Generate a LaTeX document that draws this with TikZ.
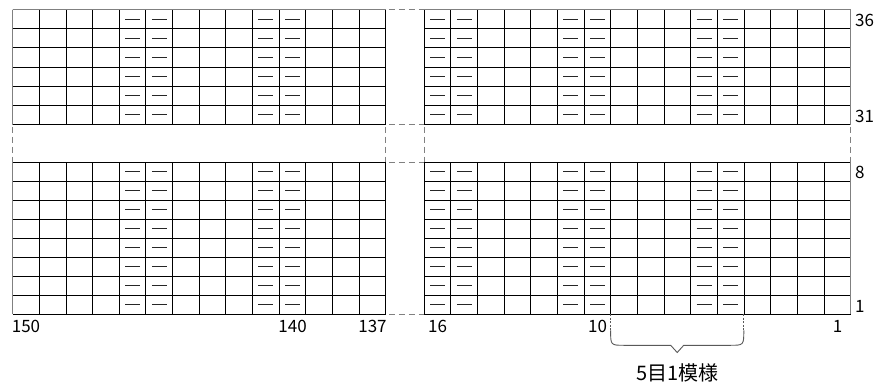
\documentclass[tikz,border=0pt]{standalone}
\usepackage{fontspec}
\usetikzlibrary{calc}
\setmainfont{Noto Sans CJK JP}
\def\cw{26.65}
\newcommand\knitgrid[6]{%
  \foreach \i in {0,...,#2} \draw[gridline] ({#1+\i*\cw},#3) -- ({#1+\i*\cw},{#3+#4*#5});
  \foreach \j in {0,...,#4} \draw[gridline] (#1,{#3+\j*#5}) -- ({#1+#2*\cw},{#3+\j*#5});
  \foreach \c in {#6} {\foreach \r in {1,...,#4} {\draw[purl] ({#1+(\c+0.22)*\cw},{#3+(\r-0.5)*#5}) -- ({#1+(\c+0.78)*\cw},{#3+(\r-0.5)*#5});}}
}
\begin{document}
\begin{tikzpicture}[x=1pt,y=-1pt,
  gridline/.style={black,line width=0.95pt},
  edgeline/.style={gray,line width=1.4pt},
  gapdash/.style={gray,line width=1pt,dash pattern=on 6pt off 4pt},
  purl/.style={black!85,line width=1.05pt},
  lbl/.style={font=\fontsize{17}{17}\selectfont,inner sep=0pt},
  caption/.style={font=\fontsize{20}{20}\selectfont,inner sep=0pt},
  bracestyle/.style={gray!70!black,line width=0.9pt},
  ]
\useasboundingbox (0,0) rectangle (877,383);
% top sections (rows 31-36)
\knitgrid{12.7}{14}{9.7}{6}{19.13}{4,5,9,10}
\knitgrid{424.3}{16}{9.7}{6}{19.13}{0,1,5,6,10,11}
% bottom sections (rows 1-8)
\knitgrid{12.7}{14}{162.3}{8}{19}{4,5,9,10}
\knitgrid{424.3}{16}{162.3}{8}{19}{0,1,5,6,10,11}
% grey outer edges
\draw[edgeline] (12.7,9.7) -- (12.7,124.5);
\draw[edgeline] (12.7,162.3) -- (12.7,314.3);
\draw[edgeline] (850.7,9.7) -- (850.7,124.5);
\draw[edgeline] (850.7,162.3) -- (850.7,314.3);
\draw[edgeline] (12.7,9.7) -- (385.8,9.7);
\draw[edgeline] (424.3,9.7) -- (850.7,9.7);
% gaps
\draw[gapdash,dash phase=-2pt] (12.7,124.5) -- (12.7,162.3);
\draw[gapdash,dash phase=-2pt] (850.7,124.5) -- (850.7,162.3);
\draw[gapdash,dash phase=-2pt] (385.8,124.5) -- (385.8,162.3);
\draw[gapdash,dash phase=-2pt] (424.3,124.5) -- (424.3,162.3);
\foreach \yy in {9.7,124.5,162.3,314.3}
  \draw[gapdash,dash phase=-3pt] (385.8,\yy) -- (424.3,\yy);
% column labels
\node[lbl] (c150) at (26.0,326.5) {150};
\node[lbl] (c140) at (292.6,326.5) {140};
\node[lbl] (c137) at (372.5,326.5) {137};
\node[lbl] (c16) at (437.6,326.5) {16};
\node[lbl] (c10) at (597.5,326.5) {10};
\node[lbl] (c1) at (837.5,326.5) {1};
% row labels
\node[lbl,anchor=west] (r36) at (855,20.5) {36};
\node[lbl,anchor=west] (r31) at (855,116.5) {31};
\node[lbl,anchor=west] (r8) at (855,172) {8};
\node[lbl,anchor=west] (r1) at (855,306) {1};
% brace
\coordinate (bl) at (610.6,314.3);
\coordinate (br) at (743.8,314.3);
\draw[bracestyle,dash pattern=on 2pt off 1.5pt] (bl) -- ++(0,16);
\draw[bracestyle,dash pattern=on 2pt off 1.5pt] (br) -- ++(0,16);
\draw[bracestyle] ($(bl)+(0,16)$) .. controls ($(bl)+(0,31)$) .. ($(bl)+(14,31)$) -- (670.7,345.3) -- (677.2,352.5) -- (683.7,345.3) -- ($(br)+(-14,31)$) .. controls ($(br)+(0,31)$) .. ($(br)+(0,16)$);
\node[caption] (cap) at (677.2,372.5) {5目1模様};
\end{tikzpicture}
\end{document}
